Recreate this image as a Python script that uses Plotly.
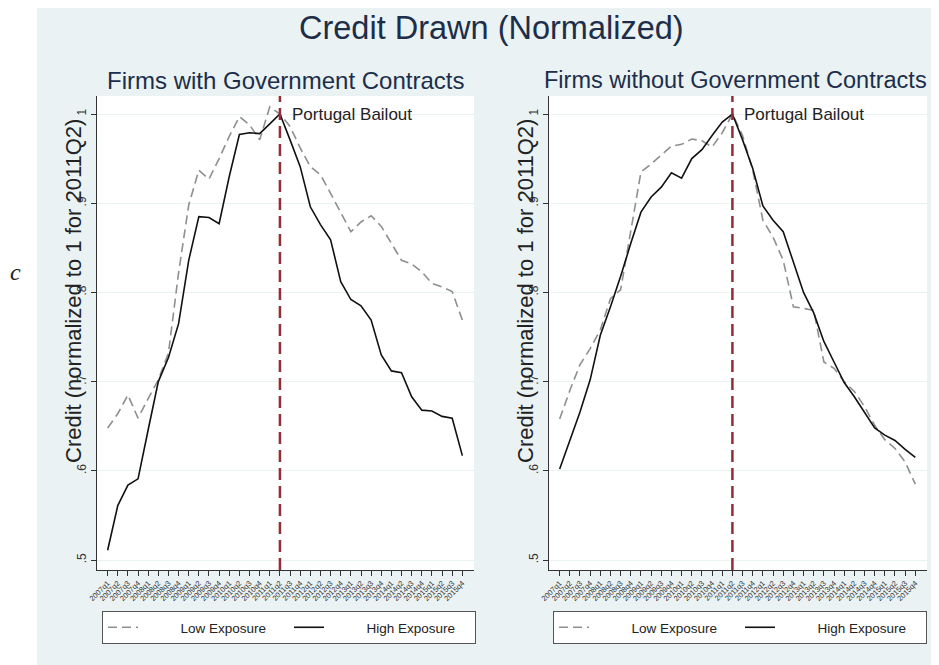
import plotly.graph_objects as go

QUARTERS = ["2007q1", "2007q2", "2007q3", "2007q4", "2008q1", "2008q2", "2008q3", "2008q4",
            "2009q1", "2009q2", "2009q3", "2009q4", "2010q1", "2010q2", "2010q3", "2010q4",
            "2011q1", "2011q2", "2011q3", "2011q4", "2012q1", "2012q2", "2012q3", "2012q4",
            "2013q1", "2013q2", "2013q3", "2013q4", "2014q1", "2014q2", "2014q3", "2014q4",
            "2015q1", "2015q2", "2015q3", "2015q4"]
BAILOUT = "2011q2"

GOV_LOW = [0.648, 0.664, 0.685, 0.659, 0.681, 0.702, 0.732, 0.822, 0.898, 0.937, 0.927, 0.950,
           0.975, 0.997, 0.988, 0.971, 1.008, 1.000, 0.986, 0.962, 0.941, 0.932, 0.911, 0.890,
           0.868, 0.879, 0.886, 0.874, 0.855, 0.836, 0.832, 0.823, 0.810, 0.806, 0.801, 0.769]
GOV_HIGH = [0.511, 0.561, 0.584, 0.591, 0.646, 0.700, 0.727, 0.765, 0.836, 0.885, 0.884, 0.877,
            0.930, 0.977, 0.979, 0.978, 0.989, 1.000, 0.971, 0.941, 0.896, 0.876, 0.859, 0.812,
            0.792, 0.785, 0.769, 0.730, 0.712, 0.710, 0.683, 0.668, 0.667, 0.661, 0.659, 0.617]
NOGOV_LOW = [0.658, 0.690, 0.719, 0.737, 0.758, 0.793, 0.803, 0.870, 0.935, 0.944, 0.954, 0.964,
             0.966, 0.972, 0.970, 0.963, 0.979, 1.000, 0.976, 0.937, 0.881, 0.862, 0.836, 0.784,
             0.782, 0.780, 0.722, 0.715, 0.700, 0.689, 0.672, 0.651, 0.635, 0.625, 0.610, 0.585]
NOGOV_HIGH = [0.602, 0.635, 0.666, 0.702, 0.752, 0.784, 0.818, 0.855, 0.890, 0.907, 0.918, 0.934,
              0.928, 0.950, 0.960, 0.976, 0.991, 1.000, 0.971, 0.939, 0.897, 0.881, 0.868, 0.834,
              0.800, 0.777, 0.745, 0.722, 0.699, 0.683, 0.666, 0.648, 0.640, 0.634, 0.624, 0.615]

Y_TICKVALS = [0.5, 0.6, 0.7, 0.8, 0.9, 1.0]
Y_TICKTEXT = [".5", ".6", ".7", ".8", ".9", "1"]

TITLE = "Credit Drawn (Normalized)"
SUB_LEFT = "Firms with Government Contracts"
SUB_RIGHT = "Firms without Government Contracts"
YTITLE = "Credit (normalized to 1 for 2011Q2)"
EVENT = "Portugal Bailout"
LOW_NAME = "Low Exposure"
HIGH_NAME = "High Exposure"

FONT = "Liberation Sans, Arial, sans-serif"
OFF = 8  # page body margin
W, H = 939 - OFF, 665 - OFF
BG = "#EAF2F3"
LOW_STYLE = dict(color="#8f8f8f", width=1.6, dash="9px,5px")
HIGH_STYLE = dict(color="#111111", width=1.6)
PAD = "\u00a0" * 10  # room between legend sample and label

fig = go.Figure()
panels = [("x", "y", "legend", GOV_LOW, GOV_HIGH), ("x2", "y2", "legend2", NOGOV_LOW, NOGOV_HIGH)]
for xa, ya, lg, low, high in panels:
    fig.add_trace(go.Scatter(x=QUARTERS, y=low, mode="lines", name=PAD + LOW_NAME,
                             line=LOW_STYLE, xaxis=xa, yaxis=ya, legend=lg))
    fig.add_trace(go.Scatter(x=QUARTERS, y=high, mode="lines", name=PAD + HIGH_NAME,
                             line=HIGH_STYLE, xaxis=xa, yaxis=ya, legend=lg))


def px(v):
    return (v - OFF) / W


def py(v):
    return (H - (v - OFF)) / H


xcommon = dict(type="category", categoryorder="array", categoryarray=QUARTERS,
               range=[-1.05, 36.15], showgrid=False, zeroline=False, showline=True,
               linecolor="#333333", linewidth=1, ticks="outside", ticklen=5, tickcolor="#333333",
               tickangle=-45, tickfont=dict(size=7.5, color="#333333", family=FONT),
               automargin=False, fixedrange=True)
ycommon = dict(range=[0.4888, 1.0202], tickvals=Y_TICKVALS, ticktext=Y_TICKTEXT,
               showgrid=True, gridcolor=BG, gridwidth=1, zeroline=False, showline=True,
               linecolor="#333333", linewidth=1, ticks="outside", ticklen=5, tickcolor="#333333",
               tickangle=-90, tickfont=dict(size=12, color="#333333", family=FONT),
               automargin=False, fixedrange=True)

legend_common = dict(orientation="h", xanchor="left", yanchor="top",
                     bgcolor="white", bordercolor="#555555", borderwidth=1,
                     entrywidth=141, entrywidthmode="pixels",
                     font=dict(size=13.5, color="#222222", family=FONT))

ydom = [py(570), py(96)]
fig.update_layout(
    width=W, height=H,
    margin=dict(l=0, r=0, t=0, b=0),
    paper_bgcolor=BG, plot_bgcolor="white",
    font=dict(family=FONT, color="#222222"),
    xaxis=dict(domain=[px(97), px(474)], anchor="y", **xcommon),
    yaxis=dict(domain=ydom, anchor="x", **ycommon),
    xaxis2=dict(domain=[px(549), px(927)], anchor="y2", **xcommon),
    yaxis2=dict(domain=ydom, anchor="x2", **ycommon),
    legend=dict(x=px(102), y=py(611), **legend_common),
    legend2=dict(x=px(553), y=py(611), **legend_common),
    showlegend=True,
)

# white strip left of the graph region
fig.add_shape(type="rect", xref="paper", yref="paper", x0=0, x1=px(37), y0=0, y1=1,
              fillcolor="white", line=dict(width=0), layer="below")

bx = QUARTERS.index(BAILOUT)
for xa, ya in [("x", "y"), ("x2", "y2")]:
    fig.add_shape(type="line", xref=xa, yref=f"{ya} domain", x0=bx, x1=bx, y0=0, y1=1,
                  line=dict(color="#922e35", width=2.5, dash="12px,6px"))
    fig.add_annotation(xref=xa, yref=ya, x=bx, y=1.0, text=EVENT, showarrow=False,
                       xanchor="left", yanchor="middle", xshift=10,
                       font=dict(size=17, color="#222222", family=FONT))

fig.add_annotation(xref="paper", yref="paper", x=px(491), y=py(28), text=TITLE, showarrow=False,
                   xanchor="center", yanchor="middle", font=dict(size=32.5, color="#1c2e4a", family=FONT))
fig.add_annotation(xref="paper", yref="paper", x=px(285), y=py(80), text=SUB_LEFT, showarrow=False,
                   xanchor="center", yanchor="middle", font=dict(size=24, color="#1c2e4a", family=FONT))
fig.add_annotation(xref="paper", yref="paper", x=px(735), y=py(80), text=SUB_RIGHT, showarrow=False,
                   xanchor="center", yanchor="middle", font=dict(size=23.5, color="#1c2e4a", family=FONT))
for xc in [73, 525]:
    fig.add_annotation(xref="paper", yref="paper", x=px(xc), y=py(291), text=YTITLE, showarrow=False,
                       textangle=-90, xanchor="center", yanchor="middle",
                       font=dict(size=22, color="#222222", family=FONT))
fig.add_annotation(xref="paper", yref="paper", x=px(15), y=py(272), text="<i>c</i>", showarrow=False,
                   xanchor="center", yanchor="middle",
                   font=dict(size=24, color="#222222", family="Liberation Serif, serif"))

fig.write_html("out.html")
